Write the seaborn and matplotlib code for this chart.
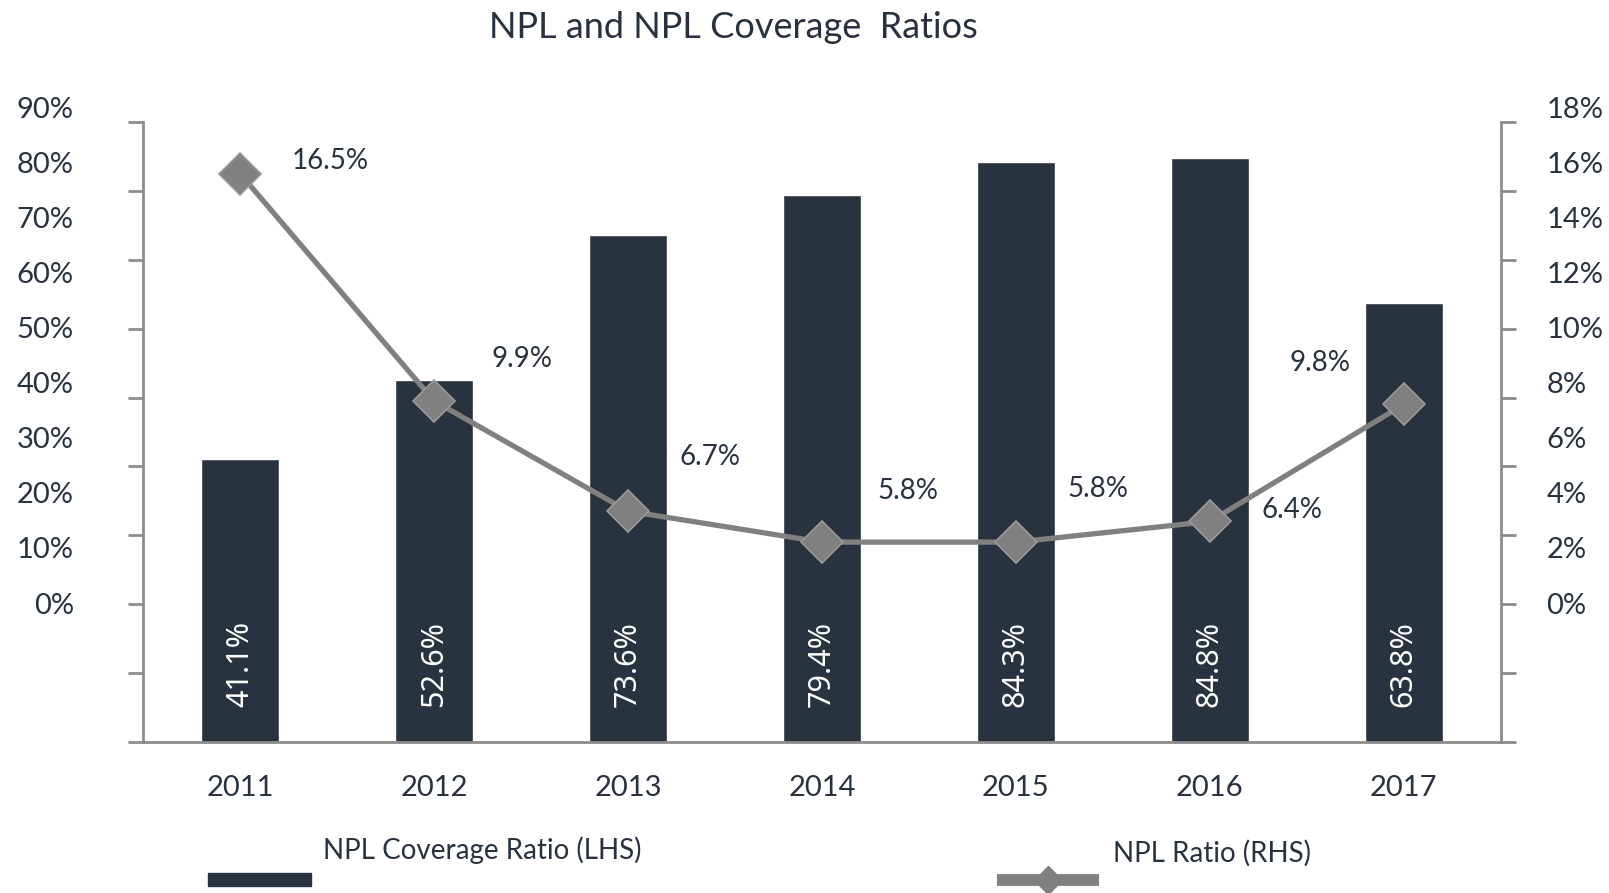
import numpy as np
import pandas as pd
import matplotlib
matplotlib.use('Agg')
import matplotlib.pyplot as plt
from matplotlib.patches import Rectangle
from matplotlib.lines import Line2D
import seaborn as sns

# data
years = ['2011', '2012', '2013', '2014', '2015', '2016', '2017']
coverage = [41.1, 52.6, 73.6, 79.4, 84.3, 84.8, 63.8]   # LHS, bars
npl_ratio = [16.5, 9.9, 6.7, 5.8, 5.8, 6.4, 9.8]        # RHS, line

# label offsets for the line values (points)
npl_offsets = [(37, 9), (41, 30), (37, 39), (40, 37), (37, 38), (37, 8), (-38, 30)]

sns.set_style('white')
plt.rcParams['font.family'] = ['Lato', 'DejaVu Sans']

navy = '#29333f'
text_c = '#28323f'
grey_line = '#808080'
axis_c = '#8c8c8c'

W, H = 1609, 893
fig = plt.figure(figsize=(W / 100, H / 100), dpi=100)

# main axes in pixel terms
x0, x1 = 143.3, 1500.7
y_top, y_bot = 122.3, 741.7
ax = fig.add_axes([x0 / W, 1 - y_bot / H, (x1 - x0) / W, (y_bot - y_top) / H])

df = pd.DataFrame({'year': years, 'coverage': coverage})
sns.barplot(data=df, x='year', y='coverage', color=navy, saturation=1,
            width=0.4, ax=ax, zorder=2)
ax.set_ylim(0, 90)
ax.set_xlim(-0.5, len(years) - 0.5)
ax.set_yticks(np.arange(0, 91, 10))
ax.set_yticklabels([])
ax.set_xlabel('')
ax.set_ylabel('')
ax.set_xticks(np.arange(-0.5, len(years), 1), minor=True)
ax.tick_params(axis='x', which='major', length=0, pad=24, labelsize=21, labelcolor=text_c)
ax.tick_params(axis='x', which='minor', length=11, width=2, color=axis_c, direction='out')
ax.tick_params(axis='y', length=11, width=2, color=axis_c, direction='out')
for s in ['left', 'right', 'bottom']:
    ax.spines[s].set_color(axis_c)
    ax.spines[s].set_linewidth(2)
ax.spines['top'].set_visible(False)
ax.grid(False)

# bar value labels (rotated, white)
for i, v in enumerate(coverage):
    ax.annotate(f'{v:.1f}%', xy=(i, 0), xytext=(0, 56), textcoords='offset points',
                rotation=90, ha='center', va='center', color='white',
                fontsize=22, family=['Noto Sans', 'DejaVu Sans'], zorder=3)

# right axis with the NPL ratio line
ax2 = ax.twinx()
ax2.set_ylim(0, 18)
ax2.set_yticks(np.arange(0, 19, 2))
ax2.set_yticklabels([])
ax2.tick_params(axis='y', length=11, width=2, color=axis_c, direction='out')
for s in ['left', 'right', 'bottom', 'top']:
    ax2.spines[s].set_visible(False)
xpos = np.arange(len(years))
sns.lineplot(x=xpos, y=npl_ratio, ax=ax2, color=grey_line, linewidth=3.8,
             marker='D', markersize=21, markerfacecolor=grey_line,
             markeredgecolor='#9a9a9a', markeredgewidth=1.2, zorder=4)
ax2.set_xlim(-0.5, len(years) - 0.5)
for i, v in enumerate(npl_ratio):
    dx, dy = npl_offsets[i]
    ax2.annotate(f'{v}%', xy=(i, v), xytext=(dx, dy), textcoords='offset points',
                 ha='left' if dx > 0 else 'right', va='center',
                 fontsize=20, color=text_c)

# tick labels sit on their own (shifted) scale, as in the original
lb_top, lb_bot = 107.5, 603.0
axl = fig.add_axes([x0 / W, 1 - lb_bot / H, (x1 - x0) / W, (lb_bot - lb_top) / H], zorder=-1)
axl.patch.set_alpha(0)
axl.set_ylim(0, 90)
axl.set_yticks(np.arange(0, 91, 10))
axl.set_yticklabels([f'{t}%' for t in range(0, 91, 10)])
axl.set_xticks([])
axl.tick_params(axis='y', length=0, pad=50, labelsize=21, labelcolor=text_c)
for s in axl.spines.values():
    s.set_visible(False)
axr = axl.twinx()
axr.patch.set_alpha(0)
axr.set_ylim(0, 18)
axr.set_yticks(np.arange(0, 19, 2))
axr.set_yticklabels([f'{t}%' for t in range(0, 19, 2)])
axr.tick_params(axis='y', length=0, pad=33, labelsize=21, labelcolor=text_c)
for s in axr.spines.values():
    s.set_visible(False)

# title
fig.text(733 / W, 1 - 28 / H, 'NPL and NPL Coverage  Ratios', ha='center', va='center',
         fontsize=26, color=text_c)

# legend, drawn by hand (text sits above the keys)
fig.add_artist(Rectangle((208 / W, 1 - 886 / H), 103 / W, 13 / H,
                         transform=fig.transFigure, color=navy))
fig.text(323 / W, 1 - 850 / H, 'NPL Coverage Ratio (LHS)', ha='left', va='center',
         fontsize=20, color=text_c)
fig.add_artist(Line2D([997 / W, 1099 / W], [1 - 880 / H, 1 - 880 / H],
                      transform=fig.transFigure, color=grey_line, linewidth=8.5,
                      solid_capstyle='butt'))
fig.add_artist(Line2D([1048 / W], [1 - 880 / H], transform=fig.transFigure,
                      marker='D', markersize=14, color=grey_line, linestyle='none'))
fig.text(1113 / W, 1 - 853 / H, 'NPL Ratio (RHS)', ha='left', va='center',
         fontsize=20, color=text_c)

fig.savefig('out.png', dpi=100)
plt.close(fig)
